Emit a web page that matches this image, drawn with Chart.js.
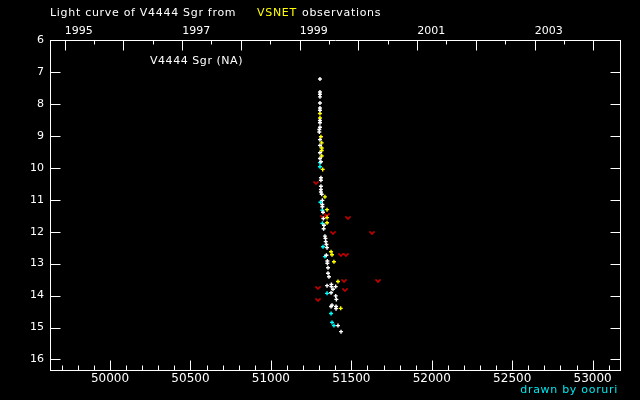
<!DOCTYPE html>
<html><head><meta charset="utf-8">
<script src="https://cdn.jsdelivr.net/npm/chart.js@4/dist/chart.umd.min.js"></script>
<style>html,body{margin:0;padding:0;background:#000;}#wrap{width:640px;height:400px;}</style>
</head><body><div id="wrap"><canvas id="c" width="640" height="400"></canvas></div>
<script>
// ---- axis ranges and tick values ----
const xMin = 49627, xMax = 53170;
const yMin = 6, yMax = 16.33;
const mjdTickValues = [50000, 50500, 51000, 51500, 52000, 52500, 53000];
const mjdMinorTicks = [49700,49800,49900,50100,50200,50300,50400,50600,50700,50800,50900,51100,51200,51300,51400,51600,51700,51800,51900,52100,52200,52300,52400,52600,52700,52800,52900,53100];
const magTickValues = [6, 7, 8, 9, 10, 11, 12, 13, 14, 15, 16];
const yearTickValues = [49718, 50083, 50449, 50814, 51179, 51544, 51910, 52275, 52640, 53005];
const yearLabels = ['1995', '', '1997', '', '1999', '', '2001', '', '2003', ''];
const halfYearTicks = [49899, 50265, 50630, 50995, 51360, 51726, 52091, 52456, 52821];

// ---- observations ----
const whiteMjd = [51305,51305,51305,51305,51305,51305,51305,51305,51305,51305,51301,51301,51305,51305,51305,51305,51311,51311,51311,51311,51311,51311,51316,51320,51320,51320,51324,51326,51330,51328,51336,51339,51341,51345,51349,51345,51351,51351,51355,51355,51361,51349,51376,51376,51386,51403,51374,51403,51407,51380,51374,51405,51405,51417,51436];
const whiteMag = [7.22,7.63,7.70,7.78,7.97,8.13,8.20,8.52,8.59,8.73,8.80,8.88,9.12,9.30,9.53,9.71,9.81,10.31,10.39,10.58,10.68,10.76,10.83,11.02,11.15,11.22,11.39,11.59,11.80,11.91,12.14,12.21,12.31,12.40,12.50,12.74,12.92,12.99,13.13,13.30,13.41,13.69,13.65,13.72,13.80,13.72,13.91,14.01,14.12,14.30,14.34,14.34,14.41,14.94,15.13];
const yellowMjd = [51305,51305,51311,51316,51316,51316,51316,51322,51336,51349,51349,51349,51374,51380,51392,51417,51434];
const yellowMag = [8.30,8.44,9.03,9.22,9.38,9.46,9.63,10.05,10.91,11.31,11.56,11.72,12.63,12.72,12.94,13.56,14.40];
const cyanMjd = [51305,51305,51308,51320,51320,51324,51336,51349,51374,51380,51392];
const cyanMag = [9.84,9.97,11.08,11.33,11.74,12.47,12.78,13.93,14.56,14.84,14.94];
const limitMjd = [51280,51351,51324,51479,51386,51628,51438,51469,51454,51666,51293,51461,51293];
const limitMag = [10.47,11.47,11.53,11.56,12.05,12.05,12.74,12.74,13.55,13.55,13.75,13.83,14.15];

const FONT = '"DejaVu Sans", "Liberation Sans", sans-serif';
Chart.defaults.font.family = FONT;
Chart.defaults.font.size = 11;
Chart.defaults.color = '#ffffff';

function pts(xs, ys) { return xs.map((x, i) => ({x: x, y: ys[i]})); }
function makeV(color) {
  const c = document.createElement('canvas');
  c.width = 6; c.height = 4;
  const g = c.getContext('2d');
  g.fillStyle = color;
  [[0,0],[1,0],[4,0],[5,0],[1,1],[2,1],[3,1],[4,1],[2,2],[3,2]].forEach(p => g.fillRect(p[0], p[1] + 0.5, 1, 1));
  return c;
}
function crossSet(data, color) {
  return {data: data, pointStyle: 'cross', radius: 2, borderWidth: 1.4,
          borderColor: color, backgroundColor: color, showLine: false};
}

const bgPlugin = {
  id: 'bg',
  beforeDraw(chart) {
    const c = chart.ctx; c.save(); c.fillStyle = '#000'; c.fillRect(0, 0, chart.width, chart.height); c.restore();
  },
  beforeDatasetsDraw(chart) { chart.ctx.imageSmoothingEnabled = false; },
  afterDatasetsDraw(chart) { chart.ctx.imageSmoothingEnabled = true; }
};

const ticksPlugin = {
  id: 'inTicks',
  afterDraw(chart) {
    const c = chart.ctx, a = chart.chartArea;
    const sx = chart.scales.x, sy = chart.scales.y;
    c.save();
    c.strokeStyle = '#fff'; c.lineWidth = 1;
    const vline = (v, y0, len) => {
      const px = Math.round(sx.getPixelForValue(v)) + 0.5;
      c.beginPath(); c.moveTo(px, y0); c.lineTo(px, y0 + len); c.stroke();
    };
    const bot = Math.round(a.bottom) + 0.5, top = Math.round(a.top) + 0.5;
    mjdTickValues.forEach(v => vline(v, bot, -10));
    mjdMinorTicks.forEach(v => vline(v, bot, -5));
    yearTickValues.forEach(v => vline(v, top, 10));
    halfYearTicks.forEach(v => vline(v, top, 4));
    const left = Math.round(a.left) + 0.5, right = Math.round(a.right) + 0.5;
    magTickValues.forEach(v => {
      const py = Math.round(sy.getPixelForValue(v)) + 0.5;
      c.beginPath(); c.moveTo(left, py); c.lineTo(left + 10, py);
      c.moveTo(right, py); c.lineTo(right - 10, py); c.stroke();
    });
    c.restore();
  }
};

const textPlugin = {
  id: 'texts',
  afterDraw(chart) {
    const c = chart.ctx;
    c.save();
    c.font = '11px ' + FONT;
    try { c.letterSpacing = '0.7px'; } catch (e) {}
    c.textBaseline = 'alphabetic';
    c.textAlign = 'left';
    c.fillStyle = '#ffffff'; c.fillText('Light curve of V4444 Sgr from', 50, 16);
    c.fillStyle = '#ffff00'; c.fillText('VSNET', 257, 16);
    c.fillStyle = '#ffffff'; c.fillText('observations', 302, 16);
    try { c.letterSpacing = '0.55px'; } catch (e) {}
    c.fillStyle = '#ffffff'; c.fillText('V4444 Sgr (NA)', 150, 64);
    try { c.letterSpacing = '0.7px'; } catch (e) {}
    c.textAlign = 'right';
    c.fillStyle = '#00e8f0'; c.fillText('drawn by ooruri', 618, 393);
    c.restore();
  }
};

new Chart(document.getElementById('c'), {
  type: 'scatter',
  data: {
    datasets: [
      crossSet(pts(whiteMjd, whiteMag), '#ffffff'),
      crossSet(pts(yellowMjd, yellowMag), '#ffff00'),
      crossSet(pts(cyanMjd, cyanMag), '#00ffff'),
      {data: pts(limitMjd, limitMag), pointStyle: makeV('#ff0000'), radius: 3, showLine: false}
    ]
  },
  options: {
    responsive: false, animation: false, events: [],
    layout: {padding: 0},
    plugins: {legend: {display: false}, tooltip: {enabled: false}, title: {display: false}},
    scales: {
      x: {
        type: 'linear', position: 'bottom', min: xMin, max: xMax,
        afterFit: s => { s.height = 30; },
        afterBuildTicks: s => { s.ticks = mjdTickValues.map(v => ({value: v})); },
        grid: {display: false, drawTicks: false},
        border: {display: true, color: '#ffffff', width: 1},
        ticks: {color: '#ffffff', autoSkip: false, maxRotation: 0, padding: 2, font: {size: 12},
                callback: v => String(v)}
      },
      x2: {
        type: 'linear', position: 'top', min: xMin, max: xMax,
        afterFit: s => { s.height = 40; },
        afterBuildTicks: s => { s.ticks = yearTickValues.map(v => ({value: v})); },
        grid: {display: false, drawTicks: false},
        border: {display: true, color: '#ffffff', width: 1},
        ticks: {color: '#ffffff', autoSkip: false, maxRotation: 0, padding: 2, align: 'start',
                callback: (v, i) => yearLabels[i]}
      },
      y: {
        type: 'linear', position: 'left', reverse: true, min: yMin, max: yMax,
        afterFit: s => { s.width = 50; },
        afterBuildTicks: s => { s.ticks = magTickValues.map(v => ({value: v})); },
        grid: {display: false, drawTicks: false},
        border: {display: true, color: '#ffffff', width: 1},
        ticks: {color: '#ffffff', autoSkip: false, padding: 6, callback: v => String(v)}
      },
      y2: {
        type: 'linear', position: 'right', reverse: true, min: yMin, max: yMax,
        afterFit: s => { s.width = 20; },
        grid: {display: false, drawTicks: false},
        border: {display: true, color: '#ffffff', width: 1},
        ticks: {display: false}
      }
    }
  },
  plugins: [bgPlugin, ticksPlugin, textPlugin]
});
</script>
</body></html>
